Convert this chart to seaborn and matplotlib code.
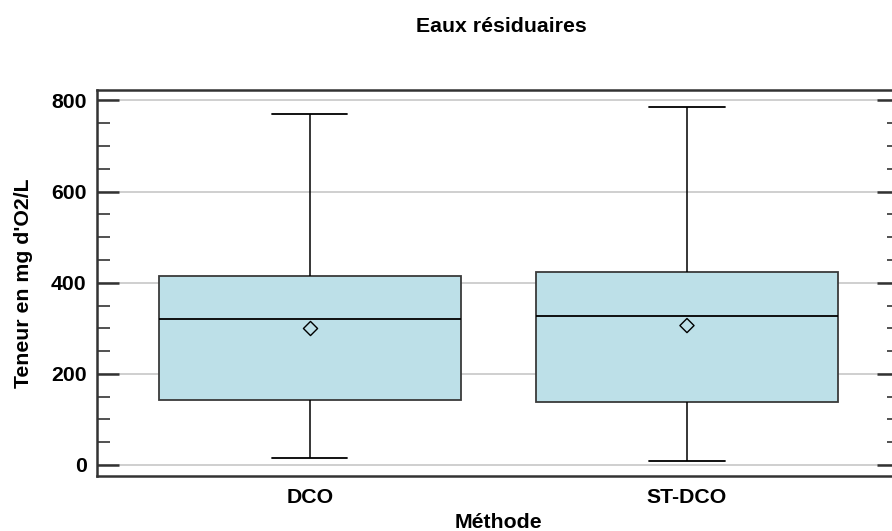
import matplotlib
matplotlib.use("Agg")
import matplotlib.pyplot as plt
from matplotlib.ticker import MultipleLocator
import numpy as np
import pandas as pd
import seaborn as sns

# ---- data ----
methods = ["DCO", "ST-DCO"]
whisker_low = [15, 9.5]
q1 = [142.5, 139]
median = [320, 326]
q3 = [415.5, 424.5]
whisker_high = [770, 785]
means = [300, 306]
yticks = [0, 200, 400, 600, 800]

title = "Eaux résiduaires"
xlabel = "Méthode"
ylabel = "Teneur en mg d'O2/L"

# five-number rows so seaborn computes exactly these quartiles/whiskers
rows = []
for i, m in enumerate(methods):
    for v in (whisker_low[i], q1[i], median[i], q3[i], whisker_high[i]):
        rows.append({"Méthode": m, "value": v})
df = pd.DataFrame(rows)

sns.set_style("white")
plt.rcParams["font.family"] = ["Liberation Sans", "DejaVu Sans"]
plt.rcParams["font.weight"] = "bold"
plt.rcParams["text.color"] = "black"
plt.rcParams["axes.labelcolor"] = "black"
plt.rcParams["xtick.color"] = "black"
plt.rcParams["ytick.color"] = "black"

FS = 15.3
fig = plt.figure(figsize=(8.92, 5.31), dpi=100)
ax = fig.add_axes([97.3 / 892, 1 - 475.7 / 531, (899 - 97.3) / 892, (475.7 - 90) / 531])

box_fill = "#bde0e8"
edge = "#3a3a3a"
sns.boxplot(
    data=df, x="Méthode", y="value", order=methods, whis=(0, 100), width=0.8,
    color=box_fill, saturation=1, fliersize=0, ax=ax,
    boxprops=dict(facecolor=box_fill, edgecolor=edge, linewidth=1.3),
    medianprops=dict(color="black", linewidth=1.3),
    whiskerprops=dict(color="black", linewidth=1.1),
    capprops=dict(color="black", linewidth=1.3),
    capwidths=0.2, zorder=2,
)

sns.stripplot(x=methods, y=means, order=methods, jitter=False, marker="D", size=7.2,
              color=box_fill, edgecolor="black", linewidth=1.0, ax=ax, zorder=4)
ax.collections[-1].set_facecolor("none")

ax.set_xlim(-0.563, 1.562)
ax.set_ylim(-23.5, 823)
ax.set_yticks(yticks)
ax.yaxis.set_minor_locator(MultipleLocator(50))
ax.grid(axis="y", which="major", color="#cccccc", linewidth=1.3, zorder=0)
ax.set_axisbelow(True)

ax.tick_params(axis="y", which="major", direction="in", length=16, width=1.8,
               color="#333333", labelcolor="black", left=True, right=True,
               labelsize=FS, pad=7.6)
ax.tick_params(axis="y", which="minor", direction="in", length=9, width=1.2,
               color="#333333", left=True, right=True)
ax.tick_params(axis="x", length=0, labelsize=FS, labelcolor="black", pad=9)
for lab in ax.get_xticklabels() + ax.get_yticklabels():
    lab.set_fontweight("bold")

for s in ax.spines.values():
    s.set_color("#333333")
    s.set_linewidth(1.8)
    s.set_visible(True)

ax.set_xlabel(xlabel, fontsize=FS, fontweight="bold", labelpad=4, color="black")
ax.set_ylabel(ylabel, fontsize=FS, fontweight="bold", labelpad=13, color="black")
fig.text(501 / 892, 1 - 26 / 531, title, ha="center", va="center",
         fontsize=FS, fontweight="bold", color="black")

fig.savefig("out.png", dpi=100)
